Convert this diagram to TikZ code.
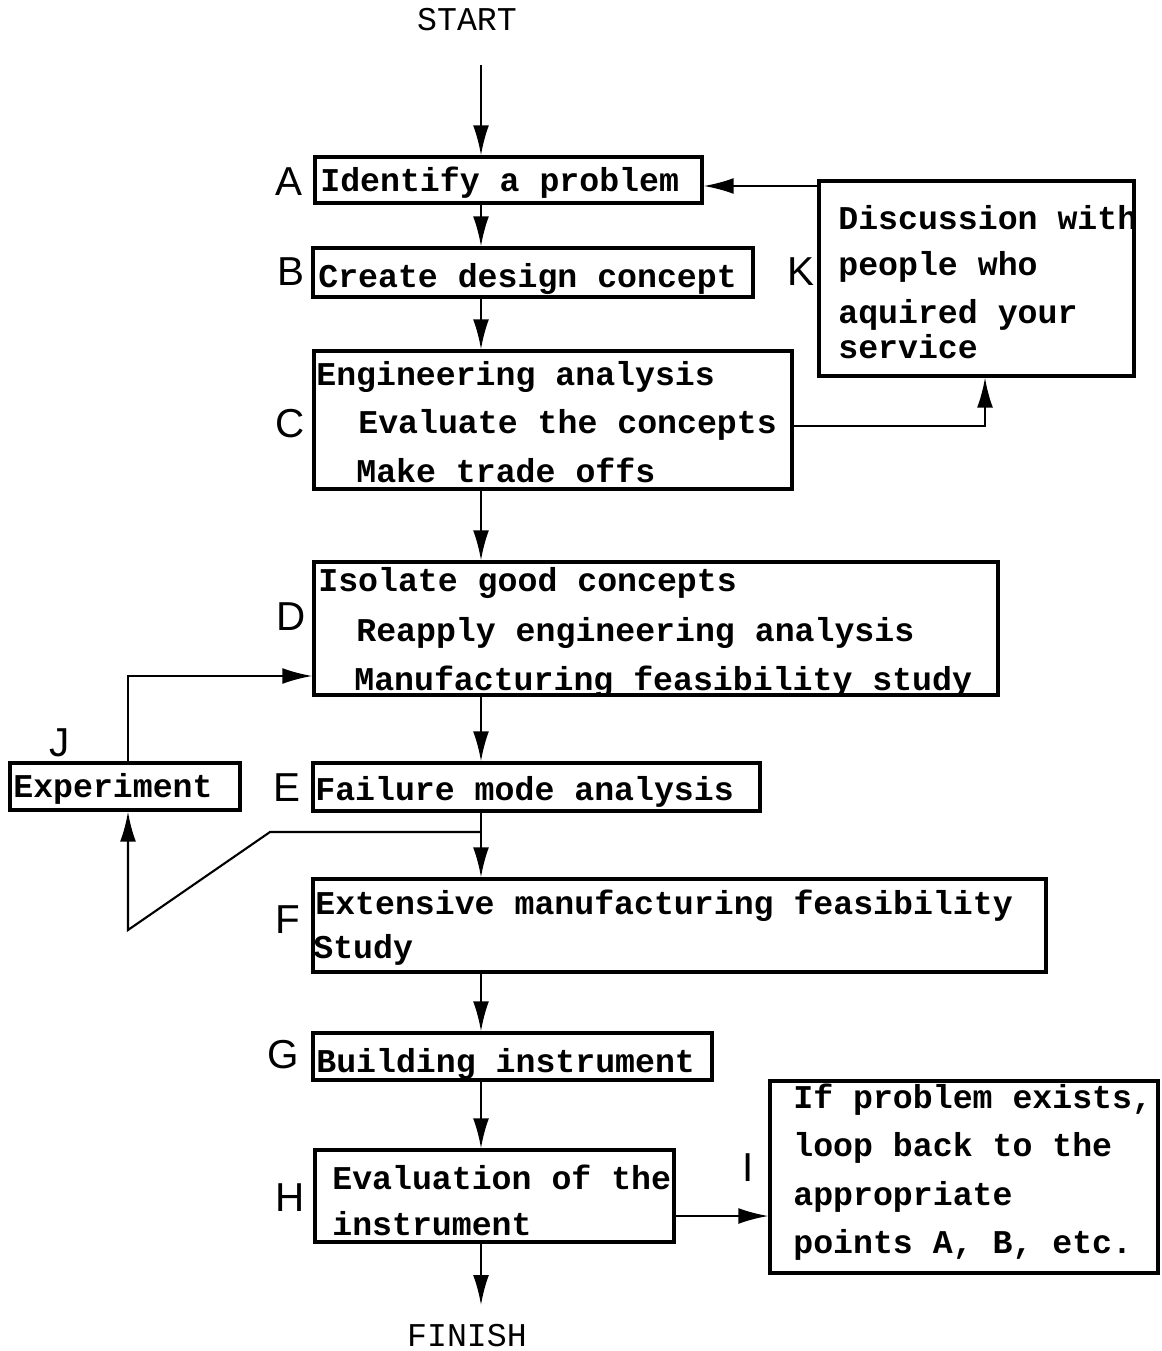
\documentclass[tikz,border=0pt]{standalone}
\usepackage{fontspec}
\setmonofont{Liberation Mono}
\setsansfont{Liberation Sans}
\usetikzlibrary{arrows.meta,fit}
\tikzset{
  box/.style={draw, line width=1.9pt, inner sep=0pt, fit={#1}},
  txt/.style={anchor=west, inner sep=0pt, font=\fontsize{18.9}{22}\selectfont\ttfamily\bfseries},
  plain/.style={anchor=center, inner sep=0pt, font=\fontsize{18.9}{22}\selectfont\ttfamily},
  lab/.style={anchor=center, inner sep=0pt, font=\fontsize{23}{26}\selectfont\sffamily},
  conn/.style={line width=1.2pt},
  arr/.style={conn, -{Latex[length=17pt,width=9pt]}}
}
\begin{document}
\begin{tikzpicture}[x=0.02cm,y=-0.02cm]
\useasboundingbox (0,0) rectangle (1161,1351);
\coordinate (spine) at (481,0);
% boxes
\node[box={(315,157) (702,203)}] (A) {};
\node[box={(313,248) (753,297)}] (B) {};
\node[box={(314,351) (792,489)}] (C) {};
\node[box={(314,562) (998,695)}] (D) {};
\node[box={(313,763) (760,811)}] (E) {};
\node[box={(313,879) (1046,972)}] (F) {};
\node[box={(313,1033) (712,1080)}] (G) {};
\node[box={(315,1150) (674,1242)}] (H) {};
\node[box={(770,1081) (1158,1273)}] (I) {};
\node[box={(819,181) (1134,376)}] (K) {};
\node[box={(10,763) (240,810)}] (J) {};
% texts
\node[txt] (tA) at (320,183) {Identify a problem};
\node[txt] (tB) at (318,279) {Create design concept};
\node[txt] (tC1) at (316,377) {Engineering analysis};
\node[txt] (tC2) at (358,425) {Evaluate the concepts};
\node[txt] (tC3) at (356,470) {Make trade offs};
\node[txt] (tD1) at (318,583) {Isolate good concepts};
\node[txt] (tD2) at (356,633) {Reapply engineering analysis};
\node[txt] (tD3) at (354,682) {Manufacturing feasibility study};
\node[txt] (tE) at (315,792) {Failure mode analysis};
\node[txt] (tF1) at (315,906) {Extensive manufacturing feasibility};
\node[txt] (tF2) at (313,950) {Study};
\node[txt] (tG) at (316,1064) {Building instrument};
\node[txt] (tH1) at (332,1177) {Evaluation of the};
\node[txt] (tH2) at (332,1224) {instrument};
\node[txt] (tI1) at (793,1100) {If problem exists,};
\node[txt] (tI2) at (793,1148) {loop back to the};
\node[txt] (tI3) at (793,1197) {appropriate};
\node[txt] (tI4) at (793,1245) {points A, B, etc.};
\node[txt] (tK1) at (838,218) {Discussion with};
\node[txt] (tK2) at (838,267) {people who};
\node[txt] (tK3) at (838,315) {aquired your};
\node[txt] (tK4) at (838,347) {service};
\node[txt] (tJ) at (13,789) {Experiment};
% start / finish
\node[plain] (start) at (467,20) {START};
\node[plain] (finish) at (467,1336) {FINISH};
% letter labels
\node[lab] (lA) at (289,182) {A};
\node[lab] (lB) at (291,272) {B};
\node[lab] (lC) at (290,424) {C};
\node[lab] (lD) at (291,617) {D};
\node[lab] (lE) at (287,788) {E};
\node[lab] (lF) at (288,920) {F};
\node[lab] (lG) at (283,1055) {G};
\node[lab] (lH) at (290,1198) {H};
\node[lab] (lI) at (748,1168) {I};
\node[lab] (lJ) at (60,743) {J};
\node[lab] (lK) at (801,272) {K};
% main flow
\coordinate (s0) at (481,65);
\coordinate (f0) at (481,1305);
\draw[arr] (s0) -- (A.north -| spine);
\draw[arr] (A.south -| spine) -- (B.north -| spine);
\draw[arr] (B.south -| spine) -- (C.north -| spine);
\draw[arr] (C.south -| spine) -- (D.north -| spine);
\draw[arr] (D.south -| spine) -- (E.north -| spine);
\draw[arr] (E.south -| spine) -- (F.north -| spine);
\draw[arr] (F.south -| spine) -- (G.north -| spine);
\draw[arr] (G.south -| spine) -- (H.north -| spine);
\draw[arr] (H.south -| spine) -- (f0);
% C -> K -> A loop
\coordinate (cK) at (985,426);
\draw[arr] (C.east |- cK) -- (cK) -- (K.south -| cK);
\coordinate (kA) at (819,186);
\draw[arr] (kA) -- (A.east |- kA);
% E/F junction -> J -> D
\coordinate (jn) at (481,832);
\coordinate (jb) at (270,832);
\coordinate (jc) at (128,930);
\draw[arr] (jn) -- (jb) -- (jc) -- (J.south -| jc);
\coordinate (jd) at (128,676);
\draw[arr] (J.north -| jd) -- (jd) -- (D.west |- jd);
% H -> I
\coordinate (hi) at (0,1216);
\draw[arr] (H.east |- hi) -- (I.west |- hi);
\end{tikzpicture}
\end{document}
